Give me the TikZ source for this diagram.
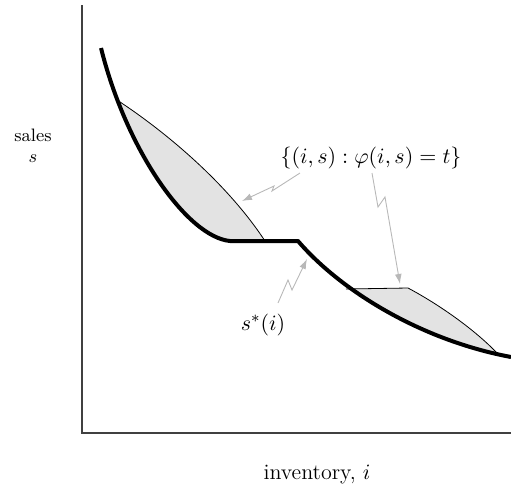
\documentclass[tikz,border=0pt]{standalone}
\usepackage{amsmath}
\usepackage{amssymb}
\usetikzlibrary{arrows.meta}

\begin{document}
\begin{tikzpicture}[
  x=0.5pt, y=-0.5pt,
  axis/.style   = {draw=black!75, line width=0.7pt},
  optline/.style= {line width=2pt, line join=round},
  level/.style  = {draw=black, line width=0.4pt},
  region/.style = {fill=black!11},
  pointer/.style= {-{Latex[length=5pt,width=3.4pt]}, draw=black!28,
                   line width=0.45pt},
  lbl/.style    = {inner sep=1pt, font=\fontsize{11}{13}\selectfont},
  axlbl/.style  = {inner sep=1pt, align=center,
                   font=\fontsize{9}{10.5}\selectfont}
]
\useasboundingbox (0,0) rectangle (511,495);

% axes
\draw[axis] (82,5) -- (82,433) -- (511,433);
\node[axlbl] (ylab) at (33,146) {sales\\$s$};
\node[lbl] (xlab) at (317,475) {inventory, $i$};

% shaded level sets
\begin{scope}
  \clip (101,48) .. controls (127,152) and (188,237) .. (230,241)
        -- (300,241) -- (300,40) -- cycle;
  \fill[region] (117,100) .. controls (160,128) and (225,180) .. (265,241)
        -- (90,241) -- (90,100) -- cycle;
\end{scope}
\begin{scope}
  \clip (298,241) .. controls (340,290) and (420,340) .. (511,357)
        -- (511,200) -- (298,200) -- cycle;
  \fill[region] (346,289) -- (408,288) .. controls (440,305) and (475,330) .. (497,353)
        -- (497,400) -- (346,400) -- cycle;
\end{scope}
\draw[level] (117,100) .. controls (160,128) and (225,180) .. (265,241);
\draw[level] (346,289) -- (408,288) .. controls (440,305) and (475,330) .. (497,353);

% optimal sales
\draw[optline] (101,48) .. controls (127,152) and (188,237) .. (230,241)
  -- (298,241) .. controls (340,290) and (420,340) .. (511,357);

% labels
\node[lbl] (setlbl) at (371,158) {$\{(i,s):\varphi(i,s)=t\}$};
\node[lbl] (optlbl) at (263,325) {$s^*(i)$};

\coordinate (p1s) at (300,173);
\coordinate (p1e) at (242,201);
\coordinate (p2s) at (278,303);
\coordinate (p2e) at (307,259);
\coordinate (p3s) at (372,173);
\coordinate (p3e) at (400,284);

\draw[pointer] (p1s) -- (272,191) -- (274,186) -- (p1e);
\draw[pointer] (p2s) -- (288,280) -- (292,290) -- (p2e);
\draw[pointer] (p3s) -- (378,207) -- (385,197) -- (p3e);

\end{tikzpicture}
\end{document}
